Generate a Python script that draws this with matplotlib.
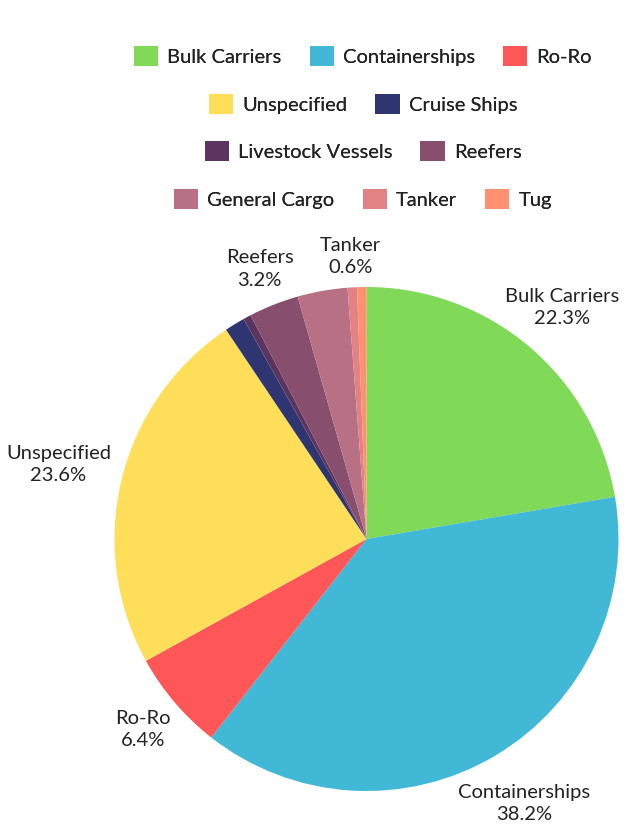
import numpy as np
import matplotlib
matplotlib.use('Agg')
import matplotlib.pyplot as plt
from matplotlib.patches import Patch

plt.rcParams['font.family'] = ['Lato', 'DejaVu Sans']

# ship types, clockwise from 12 o'clock
categories = ['Bulk Carriers', 'Containerships', 'Ro-Ro', 'Unspecified', 'Cruise Ships',
              'Livestock Vessels', 'Reefers', 'General Cargo', 'Tanker', 'Tug']
shares = [22.3, 38.2, 6.4, 23.6, 1.3, 0.5, 3.2, 3.2, 0.6, 0.6]
colors = ['#80DA58', '#41B8D5', '#FF5757', '#FFDE59', '#2E3570',
          '#5C3460', '#874E6E', '#B87084', '#E28285', '#FF9170']
show_label = [True, True, True, True, False, False, True, False, True, False]
label_pad = [14, 22, 0, 0, 0, 0, 6, 0, 0, 0]   # extra px out from the rim
legend_rows = [[0, 1, 2], [3, 4], [5, 6], [7, 8, 9]]

W, H = 629, 827
R = 252.0          # pie radius in px
cx, cy = 366.5, 539.0
FS = 14.5

fig = plt.figure(figsize=(W / 100, H / 100), dpi=100)
ax = fig.add_axes([0, 0, 1, 1])

wedges, _ = ax.pie(shares, colors=colors, startangle=90, counterclock=False,
                   radius=1, center=(0, 0), wedgeprops=dict(linewidth=0))
# pie() resets the limits, so set them afterwards (1 data unit = R px)
ax.set_xlim(-cx / R, (W - cx) / R)
ax.set_ylim(-(H - cy) / R, cy / R)
ax.set_aspect('equal')
ax.axis('off')

# outside labels: nearest edge of the text box sits a little outside the rim
total = sum(shares)
renderer = fig.canvas.get_renderer()
gap = 11 / R
for w, name, val, show, pad in zip(wedges, categories, shares, show_label, label_pad):
    if not show:
        continue
    ang = np.deg2rad((w.theta1 + w.theta2) / 2)
    ux, uy = np.cos(ang), np.sin(ang)
    t = ax.text(0, 0, f"{name}\n{val / total * 100:.1f}%", ha='center', va='center',
                fontsize=FS, color='#222222', linespacing=1.4)
    bb = t.get_window_extent(renderer)
    hw, hh = bb.width / 2 / R, bb.height / 2 / R
    s = 1 + gap + pad / R + min(hw / max(abs(ux), 1e-6), hh / max(abs(uy), 1e-6))
    t.set_position((s * ux, s * uy))

# legend, centred rows
row_y = [56, 104, 151, 199]
for row, y in zip(legend_rows, row_y):
    handles = [Patch(facecolor=colors[i], edgecolor='none') for i in row]
    labels = [categories[i] for i in row]
    leg = fig.legend(handles, labels, loc='center', bbox_to_anchor=(363 / W, 1 - y / H),
                     ncol=len(row), frameon=False, fontsize=FS,
                     handlelength=1.2, handleheight=1.2, handletextpad=0.45,
                     columnspacing=1.4, borderpad=0, labelcolor='#222222')
    fig.add_artist(leg)

fig.savefig('out.png', dpi=100, facecolor='white')
